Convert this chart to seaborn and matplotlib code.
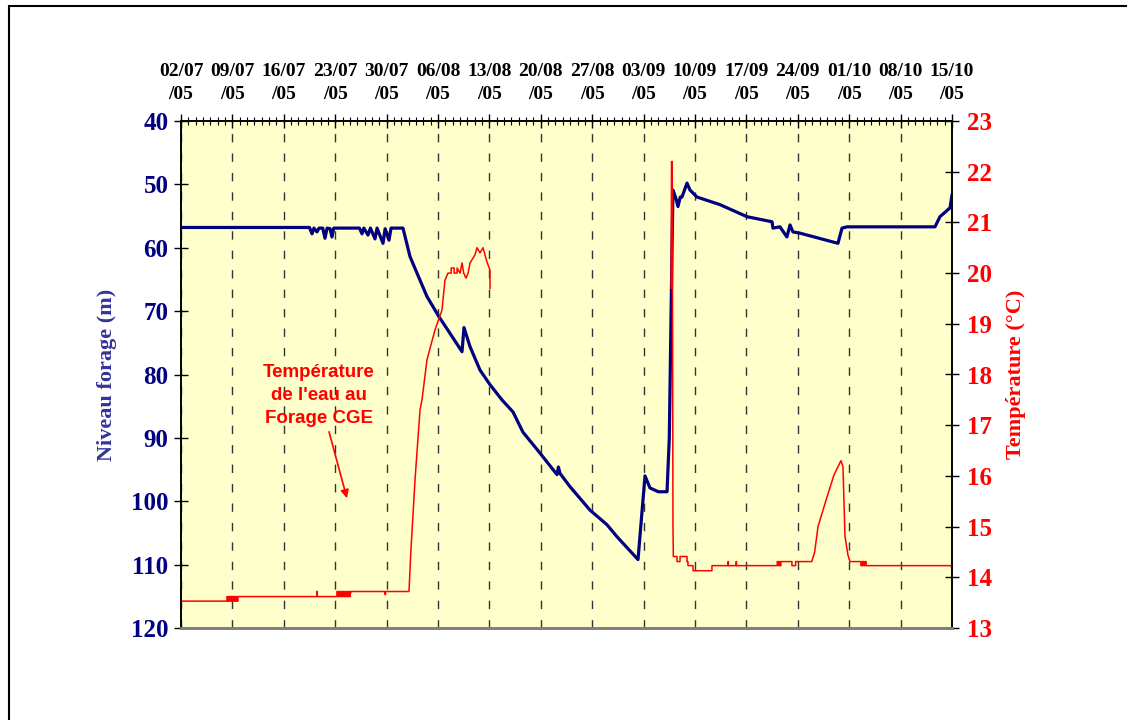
import numpy as np
import pandas as pd
import matplotlib
matplotlib.use("Agg")
import matplotlib.pyplot as plt
import matplotlib.dates as mdates
import seaborn as sns
from matplotlib.patches import Rectangle

# ---------------- data ----------------
start_date = "2005-07-02"
end_day = 105

level_days = [0, 17.5, 17.84, 18.1, 18.52, 18.8, 19.3, 19.61, 19.9, 20.3, 20.56, 20.8,
              24.3, 24.65, 24.9, 25.47, 25.8, 26.42, 26.7, 27.51, 27.8, 28.33, 28.6,
              30.23, 31.19, 32.14, 33.5, 35.14, 36.63, 38.27, 38.54, 39.36, 40.72,
              42.08, 43.71, 45.21, 46.57, 48.89, 51.21, 51.4, 51.61, 52.98, 55.7,
              58.01, 59.38, 62.24, 63.19, 63.87, 65.0, 66.19, 66.5, 66.87, 67.0,
              67.4, 67.68, 68.0, 68.23, 68.91, 69.32, 70.27, 73.4, 77.08, 80.49,
              80.62, 81.57, 82.52, 82.94, 83.34, 84.3, 89.47, 90.02, 90.7, 102.68,
              103.36, 104.73, 105.0]
level_m = [56.8, 56.8, 57.8, 56.9, 57.5, 56.9, 56.9, 58.5, 56.9, 57.0, 58.3, 56.9,
           56.9, 57.8, 56.9, 58.0, 56.9, 58.6, 56.9, 59.3, 57.0, 58.8, 56.9,
           56.9, 61.4, 64.0, 67.7, 70.9, 73.5, 76.4, 72.6, 75.6, 79.3,
           81.6, 84.0, 85.9, 89.1, 92.4, 95.8, 94.6, 95.6, 97.7, 101.4,
           103.7, 105.6, 109.2, 96.0, 97.9, 98.5, 98.5, 90.0, 60.0, 50.9,
           52.2, 53.5, 52.0, 52.0, 49.8, 50.9, 52.0, 53.2, 55.1, 55.9,
           56.9, 56.7, 58.3, 56.4, 57.5, 57.7, 59.3, 56.9, 56.7, 56.7,
           55.1, 53.7, 51.7]

temp1_days = [0, 6.26, 6.26, 6.4, 6.4, 6.55, 6.55, 6.7, 6.7, 6.85, 6.85, 7.0, 7.0,
              7.15, 7.15, 7.3, 7.3, 7.45, 7.45, 7.6, 7.6, 7.75, 7.75,
              18.5, 18.5, 18.55, 18.55, 21.24, 21.24, 21.4, 21.4, 21.6, 21.6,
              21.8, 21.8, 22.0, 22.0, 22.2, 22.2, 22.4, 22.4, 22.6, 22.6, 22.8, 22.8,
              23.0, 23.0, 23.15, 27.78, 27.78, 27.85, 27.85, 31.05,
              31.3, 31.87, 32.55, 32.82, 33.5, 34.59, 35.54, 35.95, 36.36,
              36.8, 36.8, 37.2, 37.2, 37.6, 37.6, 38.0, 38.27, 38.5, 38.81, 39.1,
              39.36, 40.04, 40.31, 40.72, 41.13, 41.67, 42.08, 42.08]
temp1_c = [13.53, 13.53, 13.62, 13.62, 13.53, 13.53, 13.62, 13.62, 13.53, 13.53, 13.62, 13.62, 13.53,
           13.53, 13.62, 13.62, 13.53, 13.53, 13.62, 13.62, 13.53, 13.53, 13.62,
           13.62, 13.72, 13.72, 13.62, 13.62, 13.72, 13.72, 13.62, 13.62, 13.72,
           13.72, 13.62, 13.62, 13.72, 13.72, 13.62, 13.62, 13.72, 13.72, 13.62, 13.62, 13.72,
           13.72, 13.62, 13.72, 13.72, 13.66, 13.66, 13.72, 13.72,
           14.5, 15.92, 17.3, 17.5, 18.29, 18.88, 19.27, 19.86, 20.0,
           20.0, 20.1, 20.1, 20.0, 20.0, 20.1, 20.0, 20.2, 20.0, 19.9, 20.0,
           20.2, 20.36, 20.5, 20.4, 20.5, 20.22, 20.06, 19.7]

temp2_days = [66.75, 66.8, 66.9, 67.0, 67.05, 67.55, 67.55, 67.96, 67.96, 68.91,
              68.91, 69.04, 69.04, 69.73, 69.73, 72.31, 72.31, 74.5, 74.5, 74.55,
              74.55, 75.6, 75.6, 75.65, 75.65, 81.2, 81.2, 81.4, 81.4, 81.5,
              81.5, 81.6, 81.6, 81.7, 81.7, 83.2, 83.2, 83.7, 83.7, 85.9,
              86.3, 86.75, 87.97, 88.93, 89.47, 89.88, 90.15, 90.43, 90.83, 91.1,
              92.6, 92.6, 92.8, 92.8, 93.0, 93.0, 93.15, 93.15, 93.3, 93.3,
              104.9, 105.0]
temp2_c = [19.7, 22.2, 22.2, 15.0, 14.41, 14.41, 14.31, 14.31, 14.41, 14.41,
           14.31, 14.31, 14.23, 14.23, 14.13, 14.13, 14.23, 14.23, 14.31, 14.31,
           14.23, 14.23, 14.31, 14.31, 14.23, 14.23, 14.31, 14.31, 14.23, 14.23,
           14.31, 14.31, 14.23, 14.23, 14.31, 14.31, 14.23, 14.23, 14.31, 14.31,
           14.5, 15.0, 15.58, 16.02, 16.18, 16.3, 16.18, 14.8, 14.44, 14.31,
           14.31, 14.23, 14.23, 14.31, 14.31, 14.23, 14.23, 14.31, 14.31, 14.23,
           14.23, 14.13]

tick_days = [0, 7, 14, 21, 28, 35, 42, 49, 56, 63, 70, 77, 84, 91, 98, 105]
tick_labels = ["02/07\n/05", "09/07\n/05", "16/07\n/05", "23/07\n/05", "30/07\n/05",
               "06/08\n/05", "13/08\n/05", "20/08\n/05", "27/08\n/05", "03/09\n/05",
               "10/09\n/05", "17/09\n/05", "24/09\n/05", "01/10\n/05", "08/10\n/05",
               "15/10\n/05"]
level_ticks = [40, 50, 60, 70, 80, 90, 100, 110, 120]
temp_ticks = [13, 14, 15, 16, 17, 18, 19, 20, 21, 22, 23]

# ---------------- frames ----------------
base = pd.Timestamp(start_date)
to_date = lambda d: base + pd.to_timedelta(np.asarray(d, dtype=float), unit="D")
df_level = pd.DataFrame({"date": to_date(level_days), "level": level_m})
df_t1 = pd.DataFrame({"date": to_date(temp1_days), "temp": temp1_c})
df_t2 = pd.DataFrame({"date": to_date(temp2_days), "temp": temp2_c})

NAVY = "#000080"
RED = "#FF0000"
serif = "Liberation Serif"

fig = plt.figure(figsize=(11.27, 7.2), dpi=100)
ax = fig.add_axes([181 / 1127, 1 - 628 / 720, (952 - 181) / 1127, (628 - 121) / 720])
ax.set_facecolor("#FFFFCC")

sns.lineplot(data=df_level, x="date", y="level", ax=ax, color=NAVY, lw=2.3,
             estimator=None, sort=False)
ax.set_ylim(120, 40)
ax.set_xlim(to_date([0])[0], to_date([end_day])[0])

ax2 = ax.twinx()
for d in (df_t1, df_t2):
    sns.lineplot(data=d, x="date", y="temp", ax=ax2, color=RED, lw=1.1,
                 estimator=None, sort=False)
ax2.set_ylim(13, 23)

# x axis on top
ax.xaxis.tick_top()
ax.set_xticks(to_date(tick_days))
ax.set_xticklabels(tick_labels, fontfamily=serif, fontweight="bold", fontsize=14,
                   linespacing=1.45)
ax.xaxis.set_minor_locator(mdates.DayLocator())
ax.tick_params(axis="x", which="major", direction="inout", length=10, width=1,
               top=True, bottom=False, pad=8)
ax.tick_params(axis="x", which="minor", direction="inout", length=6, width=0.8,
               top=True, bottom=False)
ax.set_xlabel("")
ax.grid(axis="x", which="major", color="#333333", linestyle=(0, (6, 8)), lw=1)
ax.set_axisbelow(True)

ax.set_yticks(level_ticks)
ax.set_yticklabels([str(v) for v in level_ticks], fontfamily=serif,
                   fontweight="bold", fontsize=18, color=NAVY)
ax.tick_params(axis="y", direction="inout", length=10, width=1, pad=4)
ax.set_ylabel("Niveau forage (m)", fontfamily=serif, fontweight="bold",
              fontsize=16, color="#333399", labelpad=10)

ax2.set_yticks(temp_ticks)
ax2.set_yticklabels([str(v) for v in temp_ticks], fontfamily=serif,
                    fontweight="bold", fontsize=18, color=RED)
ax2.tick_params(axis="y", direction="inout", length=10, width=1, pad=6)
ax2.set_ylabel("Température (°C)", fontfamily=serif, fontweight="bold",
               fontsize=16, color=RED, labelpad=10)

for a in (ax, ax2):
    for s in ("left", "right", "top"):
        a.spines[s].set_color("black")
        a.spines[s].set_linewidth(1.2)
    a.spines["bottom"].set_color("#808080")
    a.spines["bottom"].set_linewidth(2)

# annotation
ax2.text(to_date([18.8])[0], 17.58, "Température\nde l'eau au\nForage CGE",
         color=RED, fontfamily="Liberation Sans", fontweight="bold", fontsize=13.5,
         ha="center", va="center", linespacing=1.45)
ax2.annotate("", xy=(to_date([22.6])[0], 15.56), xytext=(to_date([20.16])[0], 16.87),
             arrowprops=dict(arrowstyle="-|>", color=RED, lw=1.2,
                             mutation_scale=12, shrinkA=0, shrinkB=0))

# outer frame
fig.patches.append(Rectangle((9 / 1127, -0.1), 1.2, (720 - 6) / 720 + 0.1,
                             transform=fig.transFigure, fill=False,
                             edgecolor="black", lw=1.5))

fig.savefig("out.png", dpi=100)
